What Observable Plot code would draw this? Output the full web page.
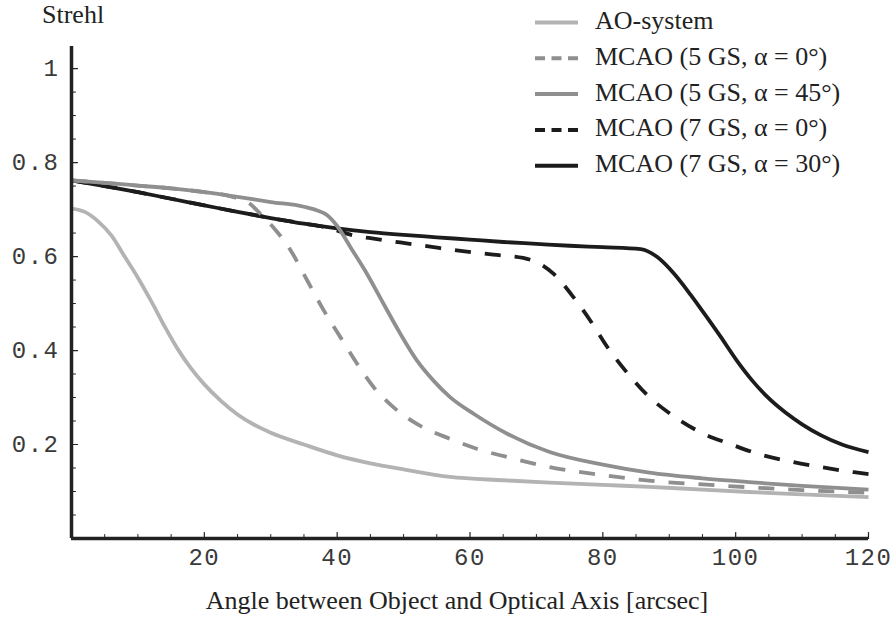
<!DOCTYPE html>
<html><head><meta charset="utf-8">
<script src="https://cdn.jsdelivr.net/npm/d3@7"></script>
<script src="https://cdn.jsdelivr.net/npm/@observablehq/plot@0.6"></script>
<style>
body{margin:0;background:#fff;}
#wrap{position:relative;width:893px;height:619px;}
#wrap svg{position:absolute;left:0;top:0;}
</style></head><body><div id="wrap"></div>
<script>
// ---- data ----
const seriesNames = ["AO-system", "MCAO (5 GS, \u03b1 = 0\u00b0)", "MCAO (5 GS, \u03b1 = 45\u00b0)", "MCAO (7 GS, \u03b1 = 0\u00b0)", "MCAO (7 GS, \u03b1 = 30\u00b0)"];
const seriesColors = ["#b3b3b3", "#8f8f8f", "#8f8f8f", "#1c1c1c", "#1c1c1c"];
const seriesDash = [null, "16,14", null, "16,14", null];
const drawOrder = [0, 4, 3, 2, 1];

const aoAngle =  [0, 2, 4, 6, 8, 10, 12, 14, 16, 18, 20, 22.5, 25, 27.5, 30, 35, 40, 45, 50, 57, 65, 72, 80, 87, 95, 102, 110, 120];
const aoStrehl = [0.702, 0.695, 0.675, 0.645, 0.600, 0.555, 0.505, 0.452, 0.403, 0.362, 0.328, 0.293, 0.264, 0.242, 0.225, 0.200, 0.177, 0.160, 0.147, 0.131, 0.124, 0.119, 0.114, 0.110, 0.104, 0.099, 0.094, 0.088];

const gs5a0Angle =  [0, 5, 10, 15, 20, 24, 26.9, 28.5, 30.4, 33, 35.5, 38, 40.5, 43, 45.5, 48.5, 52, 57, 61, 66, 72, 80, 87, 95, 102, 110, 117, 120];
const gs5a0Strehl = [0.762, 0.757, 0.751, 0.745, 0.737, 0.728, 0.712, 0.690, 0.662, 0.613, 0.549, 0.485, 0.428, 0.372, 0.322, 0.279, 0.244, 0.212, 0.191, 0.172, 0.152, 0.135, 0.123, 0.115, 0.109, 0.103, 0.099, 0.097];

const gs5a45Angle =  [0, 5, 10, 15, 20, 25, 30, 35, 37, 38.5, 40, 42, 44.5, 47, 49.5, 52, 54.5, 57, 60.6, 65.6, 72, 80, 87, 95, 102, 110, 120];
const gs5a45Strehl = [0.762, 0.757, 0.751, 0.745, 0.737, 0.727, 0.716, 0.706, 0.698, 0.688, 0.665, 0.620, 0.563, 0.499, 0.436, 0.379, 0.336, 0.301, 0.265, 0.223, 0.184, 0.157, 0.140, 0.128, 0.120, 0.112, 0.104];

const gs7a0Angle =  [0, 5, 10, 15, 20, 25, 30, 35, 38, 42.5, 45.5, 49.5, 54, 58, 63.5, 68, 70.6, 72.6, 75.6, 78.1, 80.7, 83.7, 86.7, 90.7, 94.7, 99.2, 103.2, 107.8, 112.8, 117.8, 120];
const gs7a0Strehl = [0.762, 0.750, 0.737, 0.723, 0.709, 0.695, 0.682, 0.670, 0.663, 0.645, 0.638, 0.630, 0.621, 0.613, 0.604, 0.597, 0.584, 0.563, 0.513, 0.464, 0.407, 0.352, 0.305, 0.260, 0.226, 0.201, 0.181, 0.165, 0.152, 0.141, 0.137];

const gs7a30Angle =  [0, 5, 10, 15, 20, 25, 30, 35, 40, 45, 50, 55, 60, 65, 70, 75, 80, 85.7, 88.2, 90.7, 93.2, 95.2, 97.7, 100.2, 102.5, 104.5, 107.5, 110, 112.8, 116, 120];
const gs7a30Strehl = [0.762, 0.750, 0.737, 0.723, 0.709, 0.695, 0.682, 0.670, 0.660, 0.652, 0.646, 0.641, 0.636, 0.631, 0.627, 0.623, 0.620, 0.616, 0.599, 0.564, 0.519, 0.480, 0.430, 0.378, 0.336, 0.305, 0.268, 0.243, 0.220, 0.200, 0.184];

const xMajorTicks = [20, 40, 60, 80, 100, 120];
const xMinorTicks = [5, 10, 15, 25, 30, 35, 45, 50, 55, 65, 70, 75, 85, 90, 95, 105, 110, 115];
const yMajorTicks = [0.2, 0.4, 0.6, 0.8, 1];
const yMinorTicks = [0.05, 0.1, 0.15, 0.25, 0.3, 0.35, 0.45, 0.5, 0.55, 0.65, 0.7, 0.75, 0.85, 0.9, 0.95];

const xTitle = "Angle between Object and Optical Axis [arcsec]";
const yTitle = "Strehl";

// ---- build ----
const angles = [aoAngle, gs5a0Angle, gs5a45Angle, gs7a0Angle, gs7a30Angle];
const strehls = [aoStrehl, gs5a0Strehl, gs5a45Strehl, gs7a0Strehl, gs7a30Strehl];
const rows = angles.map((a, i) => a.map((x, j) => ({angle: x, strehl: strehls[i][j], series: seriesNames[i]})));

const mono = "Liberation Mono, Courier New, monospace";
const ink = "#222";
const tickShape = {draw(ctx, l) { ctx.moveTo(0, 0); ctx.lineTo(0, -l); }};

const lineMarks = drawOrder.map(i => Plot.line(rows[i], {
  x: "angle", y: "strehl", stroke: seriesColors[i], strokeWidth: 3.8,
  strokeDasharray: seriesDash[i] || undefined, curve: "monotone-x", strokeLinecap: "butt"
}));

const labelStyle = {fontFamily: mono, fontSize: 24, fill: "#3a3a3a", label: null};

const plot = Plot.plot({
  width: 893, height: 619,
  marginLeft: 71, marginRight: 25, marginTop: 46, marginBottom: 81,
  x: {domain: [0, 120]},
  y: {domain: [0, 1.047]},
  style: {background: "transparent", color: ink},
  marks: [
    Plot.axisY(yMajorTicks, {tickSize: 0, tickPadding: 12, tickFormat: d => d === 1 ? "1" : d.toFixed(1), ...labelStyle}),
    Plot.axisX(xMajorTicks, {tickSize: 0, tickPadding: 9, ...labelStyle}),
    Plot.vector(yMajorTicks, {y: d => d, frameAnchor: "left", rotate: 90, length: 6, anchor: "start", shape: tickShape, stroke: ink, strokeWidth: 1.2}),
    Plot.vector(yMinorTicks, {y: d => d, frameAnchor: "left", rotate: 90, length: 4, anchor: "start", shape: tickShape, stroke: ink, strokeWidth: 1}),
    Plot.vector(xMajorTicks, {x: d => d, frameAnchor: "bottom", rotate: 0, length: 6, anchor: "start", shape: tickShape, stroke: ink, strokeWidth: 1.2}),
    Plot.vector(xMinorTicks, {x: d => d, frameAnchor: "bottom", rotate: 0, length: 4, anchor: "start", shape: tickShape, stroke: ink, strokeWidth: 1}),
    ...lineMarks,
    Plot.ruleX([0], {stroke: ink, strokeWidth: 3.5}),
    Plot.ruleY([0], {stroke: ink, strokeWidth: 3.5})
  ]
});
plot.querySelectorAll("text").forEach(t => t.style.letterSpacing = "1.5px");
const wrap = document.getElementById("wrap");
wrap.appendChild(plot);

// ---- overlay texts + legend ----
const ov = d3.select(wrap).append("svg").attr("width", 893).attr("height", 619)
  .style("font-family", "Liberation Serif, Times New Roman, serif").style("font-size", "26px").attr("fill", ink);
ov.append("text").attr("x", 42).attr("y", 23).text(yTitle);
ov.append("text").attr("x", 457).attr("y", 609).attr("text-anchor", "middle").text(xTitle);
const lg = ov.append("g");
seriesNames.forEach((name, i) => {
  const base = 29 + 35.8 * i;
  lg.append("line").attr("x1", 535).attr("x2", 578).attr("y1", base - 6.5).attr("y2", base - 6.5)
    .attr("stroke", seriesColors[i]).attr("stroke-width", 4)
    .attr("stroke-dasharray", seriesDash[i] ? "10,6.5" : null);
  lg.append("text").attr("x", 595).attr("y", base).text(name);
});
</script></body></html>
